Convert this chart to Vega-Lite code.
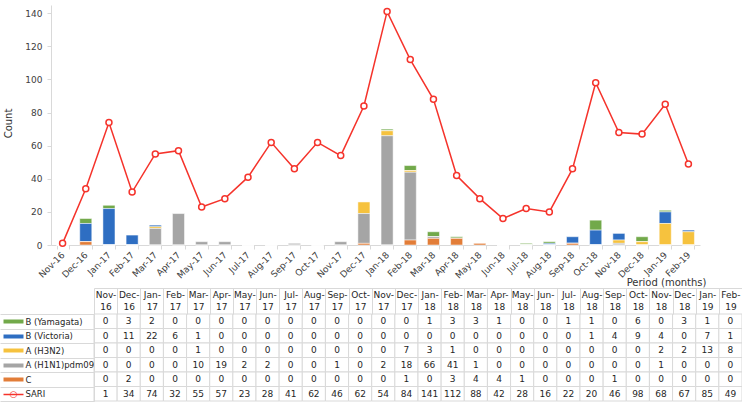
{
  "$schema": "https://vega.github.io/schema/vega-lite/v6.json",
  "width": 649,
  "height": 240,
  "autosize": {"type": "none"},
  "padding": {"left": 51, "top": 5, "right": 42, "bottom": 158},
  "background": "white",
  "config": {
    "font": "DejaVu Sans",
    "view": {"stroke": null},
    "axis": {"grid": false, "labelFont": "DejaVu Sans", "titleFont": "DejaVu Sans", "titleFontWeight": "normal", "labelOverlap": false, "labelBound": false, "labelFlush": false}
  },
  "data": {
    "values": [
      {"month": "Nov-16", "series": "B (Yamagata)", "count": 0}, {"month": "Nov-16", "series": "B (Victoria)", "count": 0}, {"month": "Nov-16", "series": "A (H3N2)", "count": 0}, {"month": "Nov-16", "series": "A (H1N1)pdm09", "count": 0}, {"month": "Nov-16", "series": "C", "count": 0}, {"month": "Nov-16", "series": "SARI", "count": 1},
      {"month": "Dec-16", "series": "B (Yamagata)", "count": 3}, {"month": "Dec-16", "series": "B (Victoria)", "count": 11}, {"month": "Dec-16", "series": "A (H3N2)", "count": 0}, {"month": "Dec-16", "series": "A (H1N1)pdm09", "count": 0}, {"month": "Dec-16", "series": "C", "count": 2}, {"month": "Dec-16", "series": "SARI", "count": 34},
      {"month": "Jan-17", "series": "B (Yamagata)", "count": 2}, {"month": "Jan-17", "series": "B (Victoria)", "count": 22}, {"month": "Jan-17", "series": "A (H3N2)", "count": 0}, {"month": "Jan-17", "series": "A (H1N1)pdm09", "count": 0}, {"month": "Jan-17", "series": "C", "count": 0}, {"month": "Jan-17", "series": "SARI", "count": 74},
      {"month": "Feb-17", "series": "B (Yamagata)", "count": 0}, {"month": "Feb-17", "series": "B (Victoria)", "count": 6}, {"month": "Feb-17", "series": "A (H3N2)", "count": 0}, {"month": "Feb-17", "series": "A (H1N1)pdm09", "count": 0}, {"month": "Feb-17", "series": "C", "count": 0}, {"month": "Feb-17", "series": "SARI", "count": 32},
      {"month": "Mar-17", "series": "B (Yamagata)", "count": 0}, {"month": "Mar-17", "series": "B (Victoria)", "count": 1}, {"month": "Mar-17", "series": "A (H3N2)", "count": 1}, {"month": "Mar-17", "series": "A (H1N1)pdm09", "count": 10}, {"month": "Mar-17", "series": "C", "count": 0}, {"month": "Mar-17", "series": "SARI", "count": 55},
      {"month": "Apr-17", "series": "B (Yamagata)", "count": 0}, {"month": "Apr-17", "series": "B (Victoria)", "count": 0}, {"month": "Apr-17", "series": "A (H3N2)", "count": 0}, {"month": "Apr-17", "series": "A (H1N1)pdm09", "count": 19}, {"month": "Apr-17", "series": "C", "count": 0}, {"month": "Apr-17", "series": "SARI", "count": 57},
      {"month": "May-17", "series": "B (Yamagata)", "count": 0}, {"month": "May-17", "series": "B (Victoria)", "count": 0}, {"month": "May-17", "series": "A (H3N2)", "count": 0}, {"month": "May-17", "series": "A (H1N1)pdm09", "count": 2}, {"month": "May-17", "series": "C", "count": 0}, {"month": "May-17", "series": "SARI", "count": 23},
      {"month": "Jun-17", "series": "B (Yamagata)", "count": 0}, {"month": "Jun-17", "series": "B (Victoria)", "count": 0}, {"month": "Jun-17", "series": "A (H3N2)", "count": 0}, {"month": "Jun-17", "series": "A (H1N1)pdm09", "count": 2}, {"month": "Jun-17", "series": "C", "count": 0}, {"month": "Jun-17", "series": "SARI", "count": 28},
      {"month": "Jul-17", "series": "B (Yamagata)", "count": 0}, {"month": "Jul-17", "series": "B (Victoria)", "count": 0}, {"month": "Jul-17", "series": "A (H3N2)", "count": 0}, {"month": "Jul-17", "series": "A (H1N1)pdm09", "count": 0}, {"month": "Jul-17", "series": "C", "count": 0}, {"month": "Jul-17", "series": "SARI", "count": 41},
      {"month": "Aug-17", "series": "B (Yamagata)", "count": 0}, {"month": "Aug-17", "series": "B (Victoria)", "count": 0}, {"month": "Aug-17", "series": "A (H3N2)", "count": 0}, {"month": "Aug-17", "series": "A (H1N1)pdm09", "count": 0}, {"month": "Aug-17", "series": "C", "count": 0}, {"month": "Aug-17", "series": "SARI", "count": 62},
      {"month": "Sep-17", "series": "B (Yamagata)", "count": 0}, {"month": "Sep-17", "series": "B (Victoria)", "count": 0}, {"month": "Sep-17", "series": "A (H3N2)", "count": 0}, {"month": "Sep-17", "series": "A (H1N1)pdm09", "count": 1}, {"month": "Sep-17", "series": "C", "count": 0}, {"month": "Sep-17", "series": "SARI", "count": 46},
      {"month": "Oct-17", "series": "B (Yamagata)", "count": 0}, {"month": "Oct-17", "series": "B (Victoria)", "count": 0}, {"month": "Oct-17", "series": "A (H3N2)", "count": 0}, {"month": "Oct-17", "series": "A (H1N1)pdm09", "count": 0}, {"month": "Oct-17", "series": "C", "count": 0}, {"month": "Oct-17", "series": "SARI", "count": 62},
      {"month": "Nov-17", "series": "B (Yamagata)", "count": 0}, {"month": "Nov-17", "series": "B (Victoria)", "count": 0}, {"month": "Nov-17", "series": "A (H3N2)", "count": 0}, {"month": "Nov-17", "series": "A (H1N1)pdm09", "count": 2}, {"month": "Nov-17", "series": "C", "count": 0}, {"month": "Nov-17", "series": "SARI", "count": 54},
      {"month": "Dec-17", "series": "B (Yamagata)", "count": 0}, {"month": "Dec-17", "series": "B (Victoria)", "count": 0}, {"month": "Dec-17", "series": "A (H3N2)", "count": 7}, {"month": "Dec-17", "series": "A (H1N1)pdm09", "count": 18}, {"month": "Dec-17", "series": "C", "count": 1}, {"month": "Dec-17", "series": "SARI", "count": 84},
      {"month": "Jan-18", "series": "B (Yamagata)", "count": 1}, {"month": "Jan-18", "series": "B (Victoria)", "count": 0}, {"month": "Jan-18", "series": "A (H3N2)", "count": 3}, {"month": "Jan-18", "series": "A (H1N1)pdm09", "count": 66}, {"month": "Jan-18", "series": "C", "count": 0}, {"month": "Jan-18", "series": "SARI", "count": 141},
      {"month": "Feb-18", "series": "B (Yamagata)", "count": 3}, {"month": "Feb-18", "series": "B (Victoria)", "count": 0}, {"month": "Feb-18", "series": "A (H3N2)", "count": 1}, {"month": "Feb-18", "series": "A (H1N1)pdm09", "count": 41}, {"month": "Feb-18", "series": "C", "count": 3}, {"month": "Feb-18", "series": "SARI", "count": 112},
      {"month": "Mar-18", "series": "B (Yamagata)", "count": 3}, {"month": "Mar-18", "series": "B (Victoria)", "count": 0}, {"month": "Mar-18", "series": "A (H3N2)", "count": 0}, {"month": "Mar-18", "series": "A (H1N1)pdm09", "count": 1}, {"month": "Mar-18", "series": "C", "count": 4}, {"month": "Mar-18", "series": "SARI", "count": 88},
      {"month": "Apr-18", "series": "B (Yamagata)", "count": 1}, {"month": "Apr-18", "series": "B (Victoria)", "count": 0}, {"month": "Apr-18", "series": "A (H3N2)", "count": 0}, {"month": "Apr-18", "series": "A (H1N1)pdm09", "count": 0}, {"month": "Apr-18", "series": "C", "count": 4}, {"month": "Apr-18", "series": "SARI", "count": 42},
      {"month": "May-18", "series": "B (Yamagata)", "count": 0}, {"month": "May-18", "series": "B (Victoria)", "count": 0}, {"month": "May-18", "series": "A (H3N2)", "count": 0}, {"month": "May-18", "series": "A (H1N1)pdm09", "count": 0}, {"month": "May-18", "series": "C", "count": 1}, {"month": "May-18", "series": "SARI", "count": 28},
      {"month": "Jun-18", "series": "B (Yamagata)", "count": 0}, {"month": "Jun-18", "series": "B (Victoria)", "count": 0}, {"month": "Jun-18", "series": "A (H3N2)", "count": 0}, {"month": "Jun-18", "series": "A (H1N1)pdm09", "count": 0}, {"month": "Jun-18", "series": "C", "count": 0}, {"month": "Jun-18", "series": "SARI", "count": 16},
      {"month": "Jul-18", "series": "B (Yamagata)", "count": 1}, {"month": "Jul-18", "series": "B (Victoria)", "count": 0}, {"month": "Jul-18", "series": "A (H3N2)", "count": 0}, {"month": "Jul-18", "series": "A (H1N1)pdm09", "count": 0}, {"month": "Jul-18", "series": "C", "count": 0}, {"month": "Jul-18", "series": "SARI", "count": 22},
      {"month": "Aug-18", "series": "B (Yamagata)", "count": 1}, {"month": "Aug-18", "series": "B (Victoria)", "count": 1}, {"month": "Aug-18", "series": "A (H3N2)", "count": 0}, {"month": "Aug-18", "series": "A (H1N1)pdm09", "count": 0}, {"month": "Aug-18", "series": "C", "count": 0}, {"month": "Aug-18", "series": "SARI", "count": 20},
      {"month": "Sep-18", "series": "B (Yamagata)", "count": 0}, {"month": "Sep-18", "series": "B (Victoria)", "count": 4}, {"month": "Sep-18", "series": "A (H3N2)", "count": 0}, {"month": "Sep-18", "series": "A (H1N1)pdm09", "count": 0}, {"month": "Sep-18", "series": "C", "count": 1}, {"month": "Sep-18", "series": "SARI", "count": 46},
      {"month": "Oct-18", "series": "B (Yamagata)", "count": 6}, {"month": "Oct-18", "series": "B (Victoria)", "count": 9}, {"month": "Oct-18", "series": "A (H3N2)", "count": 0}, {"month": "Oct-18", "series": "A (H1N1)pdm09", "count": 0}, {"month": "Oct-18", "series": "C", "count": 0}, {"month": "Oct-18", "series": "SARI", "count": 98},
      {"month": "Nov-18", "series": "B (Yamagata)", "count": 0}, {"month": "Nov-18", "series": "B (Victoria)", "count": 4}, {"month": "Nov-18", "series": "A (H3N2)", "count": 2}, {"month": "Nov-18", "series": "A (H1N1)pdm09", "count": 1}, {"month": "Nov-18", "series": "C", "count": 0}, {"month": "Nov-18", "series": "SARI", "count": 68},
      {"month": "Dec-18", "series": "B (Yamagata)", "count": 3}, {"month": "Dec-18", "series": "B (Victoria)", "count": 0}, {"month": "Dec-18", "series": "A (H3N2)", "count": 2}, {"month": "Dec-18", "series": "A (H1N1)pdm09", "count": 0}, {"month": "Dec-18", "series": "C", "count": 0}, {"month": "Dec-18", "series": "SARI", "count": 67},
      {"month": "Jan-19", "series": "B (Yamagata)", "count": 1}, {"month": "Jan-19", "series": "B (Victoria)", "count": 7}, {"month": "Jan-19", "series": "A (H3N2)", "count": 13}, {"month": "Jan-19", "series": "A (H1N1)pdm09", "count": 0}, {"month": "Jan-19", "series": "C", "count": 0}, {"month": "Jan-19", "series": "SARI", "count": 85},
      {"month": "Feb-19", "series": "B (Yamagata)", "count": 0}, {"month": "Feb-19", "series": "B (Victoria)", "count": 1}, {"month": "Feb-19", "series": "A (H3N2)", "count": 8}, {"month": "Feb-19", "series": "A (H1N1)pdm09", "count": 0}, {"month": "Feb-19", "series": "C", "count": 0}, {"month": "Feb-19", "series": "SARI", "count": 49}
    ]
  },
  "layer": [
    {
      "encoding": {
        "x": {
          "field": "month", "type": "nominal", "sort": null,
          "scale": {
            "domain": ["Nov-16", "Dec-16", "Jan-17", "Feb-17", "Mar-17", "Apr-17", "May-17", "Jun-17", "Jul-17", "Aug-17", "Sep-17", "Oct-17", "Nov-17", "Dec-17", "Jan-18", "Feb-18", "Mar-18", "Apr-18", "May-18", "Jun-18", "Jul-18", "Aug-18", "Sep-18", "Oct-18", "Nov-18", "Dec-18", "Jan-19", "Feb-19"],
            "paddingInner": 0.48, "paddingOuter": 0.24
          },
          "axis": {
            "orient": "bottom", "title": "Period (months)", "titleX": 655, "titleY": 40, "titleAlign": "right", "titleBaseline": "alphabetic", "titleFontSize": 10, "titleColor": "#333333",
            "labelAngle": -45, "labelAlign": "right", "labelBaseline": "middle", "labelPadding": 4, "labelFontSize": 9, "labelColor": "#404040", "labelOverlap": false,
            "tickBand": "extent", "tickSize": 4, "tickColor": "#d9d9d9", "domainColor": "#d9d9d9"
          }
        },
        "y": {
          "field": "count", "type": "quantitative",
          "scale": {"domain": [0, 145], "nice": false},
          "axis": {
            "orient": "left", "values": [0, 20, 40, 60, 80, 100, 120, 140], "labelOverlap": false,
            "title": "Count", "titleX": -43, "titleY": 118, "titleAngle": -90, "titleAlign": "center", "titleBaseline": "middle", "titleFontSize": 10, "titleColor": "#333333",
            "labelFontSize": 9, "labelColor": "#404040", "labelPadding": 5,
            "tickSize": 4, "tickColor": "#d9d9d9", "domainColor": "#d9d9d9"
          }
        }
      },
      "layer": [
        {
          "transform": [
            {"filter": "datum.series !== 'SARI'"},
            {"calculate": "indexof(['C', 'A (H1N1)pdm09', 'A (H3N2)', 'B (Victoria)', 'B (Yamagata)'], datum.series)", "as": "stackRank"}
          ],
          "mark": {"type": "bar", "stroke": "white", "strokeWidth": 0.5},
          "encoding": {
            "color": {
              "field": "series", "type": "nominal", "legend": null,
              "scale": {
                "domain": ["B (Yamagata)", "B (Victoria)", "A (H3N2)", "A (H1N1)pdm09", "C"],
                "range": ["#72A94A", "#2E6EC2", "#F6C23E", "#A5A5A5", "#E27D38"]
              }
            },
            "order": {"field": "stackRank", "type": "quantitative"}
          }
        },
        {
          "transform": [{"filter": "datum.series === 'SARI'"}],
          "mark": {"type": "line", "color": "#F5332B", "strokeWidth": 1.5}
        },
        {
          "transform": [{"filter": "datum.series === 'SARI'"}],
          "mark": {"type": "point", "shape": "circle", "filled": true, "fill": "white", "stroke": "#F5332B", "strokeWidth": 1.5, "size": 36, "opacity": 1}
        }
      ]
    },
    {
      "mark": {"type": "rect", "fill": "white", "stroke": "#d9d9d9", "strokeWidth": 1},
      "encoding": {
        "x": {
          "field": "month", "type": "nominal", "sort": null,
          "scale": {
            "domain": ["Nov-16", "Dec-16", "Jan-17", "Feb-17", "Mar-17", "Apr-17", "May-17", "Jun-17", "Jul-17", "Aug-17", "Sep-17", "Oct-17", "Nov-17", "Dec-17", "Jan-18", "Feb-18", "Mar-18", "Apr-18", "May-18", "Jun-18", "Jul-18", "Aug-18", "Sep-18", "Oct-18", "Nov-18", "Dec-18", "Jan-19", "Feb-19"],
            "range": [43, 691], "paddingInner": 0, "paddingOuter": 0
          },
          "axis": {
            "orient": "bottom", "offset": 43, "title": null,
            "tickBand": "extent", "tickSize": 26, "tickColor": "#d9d9d9", "domainColor": "#d9d9d9",
            "labelAngle": 0, "labelAlign": "center", "labelBaseline": "top", "labelPadding": -24, "labelLineHeight": 12, "labelFontSize": 9, "labelColor": "#262626",
            "labelExpr": "[slice(datum.label, 0, 4), slice(datum.label, 4)]"
          }
        },
        "y": {
          "field": "series", "type": "nominal", "sort": null,
          "scale": {
            "domain": ["B (Yamagata)", "B (Victoria)", "A (H3N2)", "A (H1N1)pdm09", "C", "SARI"],
            "range": [309, 396], "paddingInner": 0, "paddingOuter": 0
          },
          "axis": {
            "orient": "left", "offset": -43, "title": null,
            "tickBand": "extent", "tickSize": 94, "tickColor": "#d9d9d9", "domainColor": "#d9d9d9",
            "labelAlign": "left", "labelBaseline": "middle", "labelPadding": -25, "labelFontSize": 8.5, "labelColor": "#262626"
          }
        }
      }
    },
    {
      "mark": {"type": "text", "fontSize": 9, "color": "#262626", "align": "center", "baseline": "middle"},
      "encoding": {
        "x": {
          "field": "month", "type": "nominal", "sort": null,
          "scale": {
            "domain": ["Nov-16", "Dec-16", "Jan-17", "Feb-17", "Mar-17", "Apr-17", "May-17", "Jun-17", "Jul-17", "Aug-17", "Sep-17", "Oct-17", "Nov-17", "Dec-17", "Jan-18", "Feb-18", "Mar-18", "Apr-18", "May-18", "Jun-18", "Jul-18", "Aug-18", "Sep-18", "Oct-18", "Nov-18", "Dec-18", "Jan-19", "Feb-19"],
            "range": [43, 691], "paddingInner": 0, "paddingOuter": 0
          },
          "axis": null
        },
        "y": {
          "field": "series", "type": "nominal", "sort": null,
          "scale": {
            "domain": ["B (Yamagata)", "B (Victoria)", "A (H3N2)", "A (H1N1)pdm09", "C", "SARI"],
            "range": [309, 396], "paddingInner": 0, "paddingOuter": 0
          },
          "axis": {
            "orient": "left", "offset": 28, "title": null, "domain": false,
            "tickSize": 20, "tickCap": "butt",
            "tickWidth": {"expr": "datum.value === 'SARI' ? 1.5 : 4"},
            "tickColor": {"expr": "datum.value === 'B (Yamagata)' ? '#72A94A' : datum.value === 'B (Victoria)' ? '#2E6EC2' : datum.value === 'A (H3N2)' ? '#F6C23E' : datum.value === 'A (H1N1)pdm09' ? '#A5A5A5' : datum.value === 'C' ? '#E27D38' : '#F5332B'"},
            "labelExpr": "datum.value === 'SARI' ? '○' : ''",
            "labelAlign": "center", "labelBaseline": "middle", "labelPadding": -10, "labelFontSize": 9, "labelColor": "#F5332B"
          }
        },
        "text": {"field": "count", "type": "quantitative"}
      }
    }
  ],
  "resolve": {
    "scale": {"x": "independent", "y": "independent"},
    "axis": {"x": "independent", "y": "independent"}
  }
}
